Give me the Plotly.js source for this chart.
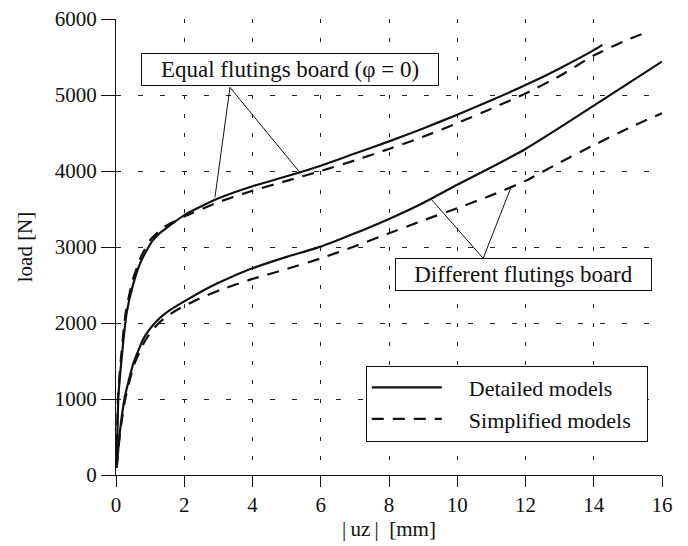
<!DOCTYPE html>
<html>
<head>
<meta charset="utf-8">
<script src="https://cdn.plot.ly/plotly-3.0.1.min.js"></script>
<style>html,body{margin:0;padding:0;background:#fff;}#chart{width:688px;height:546px;}</style>
</head>
<body>
<div id="chart"></div>
<script>
// Equal flutings board (phi = 0)
const eqDetX = [0.02, 0.07, 0.17, 0.31, 0.51, 0.75, 1.05, 1.25, 1.45, 2.0, 3.0, 4.0, 5.0, 6.0, 7.0, 8.0, 9.0, 10.0, 11.0, 12.0, 13.0, 14.0, 14.25];
const eqDetY = [100, 1030, 1557, 2127, 2522, 2829, 3070, 3170, 3240, 3420, 3640, 3800, 3930, 4070, 4230, 4390, 4560, 4740, 4930, 5130, 5350, 5590, 5660];
const eqSimX = [0.02, 0.06, 0.15, 0.28, 0.48, 0.72, 1.0, 1.4, 2.0, 3.0, 4.0, 5.0, 6.0, 7.0, 8.0, 9.0, 10.0, 11.0, 12.0, 13.0, 14.0, 15.0, 15.4];
const eqSimY = [100, 1030, 1557, 2127, 2550, 2860, 3090, 3260, 3400, 3590, 3740, 3870, 4000, 4140, 4290, 4450, 4630, 4820, 5020, 5250, 5520, 5730, 5800];
// Different flutings board
const difDetX = [0.02, 0.12, 0.26, 0.51, 0.8, 1.0, 1.2, 1.4, 1.6, 2.0, 2.75, 3.35, 4.0, 5.0, 6.0, 7.0, 8.0, 9.0, 10.0, 11.0, 12.0, 13.0, 14.0, 15.0, 16.0];
const difDetY = [100, 592, 1030, 1470, 1790, 1925, 2030, 2110, 2175, 2285, 2475, 2600, 2720, 2870, 3005, 3180, 3370, 3580, 3820, 4050, 4290, 4570, 4860, 5150, 5440];
const difSimX = [0.02, 0.12, 0.27, 0.52, 0.82, 1.0, 1.2, 1.4, 1.6, 1.9, 2.5, 3.05, 4.0, 5.0, 6.0, 7.0, 8.0, 9.0, 10.0, 11.0, 12.0, 13.0, 14.0, 15.0, 16.0];
const difSimY = [100, 560, 1000, 1440, 1740, 1870, 1975, 2055, 2120, 2200, 2335, 2434, 2580, 2710, 2850, 3010, 3180, 3350, 3510, 3680, 3870, 4110, 4340, 4560, 4760];

const seriesNames = ['Detailed models', 'Simplified models'];
const xTicks = [0, 2, 4, 6, 8, 10, 12, 14, 16];
const yTicks = [0, 1000, 2000, 3000, 4000, 5000, 6000];

const FONT = '"Liberation Serif", "DejaVu Serif", serif';
const INK = '#111';
const solid = {color: INK, width: 2.2, shape: 'spline', smoothing: 0.5};
const dashed = {color: INK, width: 2.2, dash: '12px,9px', shape: 'spline', smoothing: 0.5};

const PAD = '\u00a0\u00a0\u00a0\u00a0';
const TAIL = '\u00a0\u00a0';
const traces = [
  {x: eqDetX, y: eqDetY, mode: 'lines', line: solid, name: PAD + seriesNames[0] + TAIL, legendgroup: 'd', showlegend: true},
  {x: eqSimX, y: eqSimY, mode: 'lines', line: dashed, name: PAD + seriesNames[1] + TAIL, legendgroup: 's', showlegend: true},
  {x: difDetX, y: difDetY, mode: 'lines', line: solid, name: seriesNames[0], legendgroup: 'd', showlegend: false},
  {x: difSimX, y: difSimY, mode: 'lines', line: dashed, name: seriesNames[1], legendgroup: 's', showlegend: false}
];

const tickFont = {family: FONT, size: 21, color: INK};

const layout = {
  width: 688, height: 546,
  margin: {l: 116, r: 26, t: 19, b: 71},
  paper_bgcolor: '#fff', plot_bgcolor: '#fff',
  showlegend: true,
  legend: {
    x: 0.974, y: 0.24, xanchor: 'right', yanchor: 'top',
    bgcolor: '#fff', bordercolor: INK, borderwidth: 1,
    font: {family: FONT, size: 22, color: INK},
    itemwidth: 70, tracegroupgap: 0, traceorder: 'normal'
  },
  xaxis: {
    range: [0, 16], tickvals: xTicks, ticktext: xTicks.map(String),
    ticks: 'outside', ticklen: 11, tickwidth: 1, tickcolor: INK,
    showline: true, linecolor: INK, linewidth: 1,
    showgrid: true, gridcolor: '#222', gridwidth: 1, griddash: '4px,15px',
    zeroline: false, tickfont: tickFont,
    title: {text: '|\u2009uz\u2009|\u00a0\u00a0[mm]', font: {family: FONT, size: 21, color: INK}, standoff: 0}
  },
  yaxis: {
    range: [0, 6000], tickvals: yTicks, ticktext: yTicks.map(String),
    ticks: 'outside', ticklen: 14, tickwidth: 1, tickcolor: INK,
    showline: true, linecolor: INK, linewidth: 1,
    showgrid: true, gridcolor: '#222', gridwidth: 1, griddash: '5px,17px',
    zeroline: false, tickfont: tickFont,
    title: {text: 'load [N]', font: {family: FONT, size: 21, color: INK}, standoff: 16}
  },
  xaxis2: {
    overlaying: 'x', anchor: 'y', side: 'bottom', range: [0, 16], tickvals: xTicks,
    ticks: 'inside', ticklen: 5, tickwidth: 1, tickcolor: INK,
    showticklabels: false, showgrid: false, showline: false, zeroline: false
  },
  yaxis2: {
    overlaying: 'y', anchor: 'x', side: 'left', range: [0, 6000], tickvals: yTicks,
    ticks: 'inside', ticklen: 3, tickwidth: 1, tickcolor: INK,
    showticklabels: false, showgrid: false, showline: false, zeroline: false
  },
  annotations: [
    {x: 5.1, y: 5336, xref: 'x', yref: 'y', text: 'Equal flutings board (\u03c6 = 0)', showarrow: false,
     width: 294, height: 29,
     font: {family: FONT, size: 23, color: INK}, bgcolor: '#fff', bordercolor: INK, borderwidth: 1, borderpad: 1},
    {x: 11.93, y: 2632, xref: 'x', yref: 'y', text: 'Different flutings board', showarrow: false,
     width: 253, height: 29,
     font: {family: FONT, size: 23, color: INK}, bgcolor: '#fff', bordercolor: INK, borderwidth: 1, borderpad: 1}
  ],
  shapes: [
    {type: 'line', xref: 'x', yref: 'y', x0: 3.34, y0: 5100, x1: 2.9, y1: 3654, line: {color: INK, width: 1}},
    {type: 'line', xref: 'x', yref: 'y', x0: 3.34, y0: 5100, x1: 5.37, y1: 3991, line: {color: INK, width: 1}},
    {type: 'line', xref: 'x', yref: 'y', x0: 10.76, y0: 2851, x1: 9.24, y1: 3627, line: {color: INK, width: 1}},
    {type: 'line', xref: 'x', yref: 'y', x0: 10.76, y0: 2851, x1: 11.59, y1: 3803, line: {color: INK, width: 1}}
  ]
};

Plotly.newPlot('chart', traces, layout, {displayModeBar: false, staticPlot: true});
</script>
</body>
</html>
